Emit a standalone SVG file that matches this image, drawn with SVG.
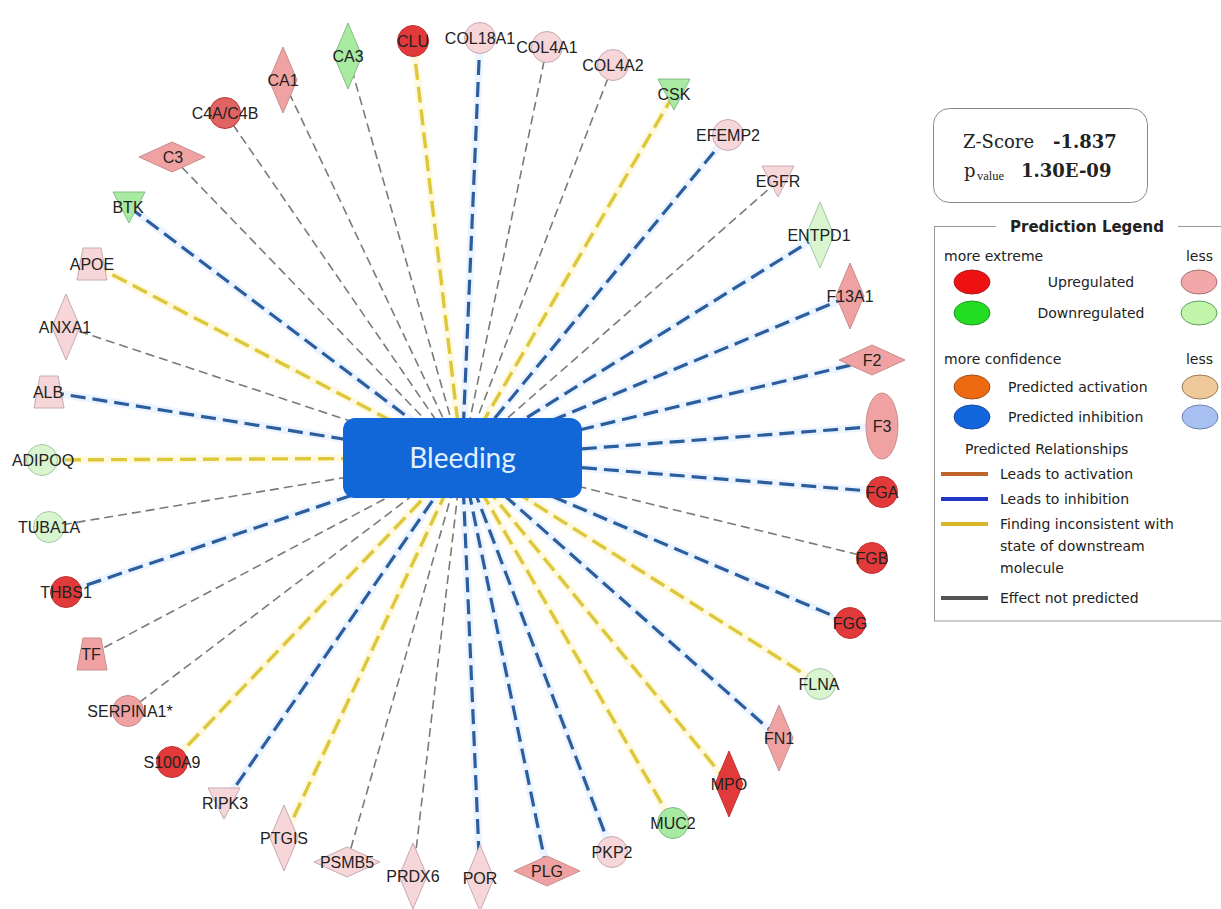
<svg xmlns="http://www.w3.org/2000/svg" xmlns:xlink="http://www.w3.org/1999/xlink" width="1221" height="909" viewBox="0 0 1221 909">
<style>
.lab{font-family:"Liberation Sans",Arial,sans-serif;font-size:16px;fill:#222;text-anchor:middle}
.cg{stroke:#7a7a7a;stroke-width:1.6;stroke-dasharray:9 5;fill:none}
.cb{stroke:#2c5e9e;stroke-width:3.2;stroke-dasharray:15 7;fill:none}
.cy{stroke:#dcc83a;stroke-width:3.4;stroke-dasharray:16 7;fill:none}
.hb{stroke:#d8eaff;stroke-width:8;opacity:0.5;fill:none}
.hy{stroke:#fff4c4;stroke-width:8;opacity:0.5;fill:none}
.r1{fill:#e23a3a;stroke:#c03535;stroke-width:1}
.r2{fill:#f0a2a2;stroke:#c88c8c;stroke-width:1}
.r3{fill:#f6d6d8;stroke:#c8aab0;stroke-width:1}
.g1{fill:#a8eaa2;stroke:#86bd86;stroke-width:1}
.g2{fill:#d8f5d0;stroke:#a6c8a6;stroke-width:1}
.lg{font-family:"DejaVu Sans",Verdana,sans-serif;font-size:14px;fill:#222}
.zs{font-family:"DejaVu Serif","Liberation Serif",serif;font-size:18px;fill:#222}
</style>
<defs>
<polygon id="vd" points="0,-33 14,0 0,33 -14,0"/>
<polygon id="hd" points="-33,0 0,-15 33,0 0,15"/>
<circle id="ci" cx="0" cy="0" r="15.5"/>
<polygon id="tr" points="-16,-15 16,-15 0,16"/>
<polygon id="tp" points="-9,-16 9,-16 15,16 -15,16"/>
<ellipse id="el" cx="0" cy="0" rx="16" ry="33"/>
</defs>
<rect width="1221" height="909" fill="#fff"/>

<g id="connectors">
<g id="halos">
<line class="hy" x1="413" y1="41" x2="462" y2="458"/>
<line class="hb" x1="480" y1="38" x2="462" y2="458"/>
<line class="hy" x1="674" y1="94" x2="462" y2="458"/>
<line class="hb" x1="728" y1="135" x2="462" y2="458"/>
<line class="hb" x1="820" y1="235" x2="462" y2="458"/>
<line class="hb" x1="850" y1="296" x2="462" y2="458"/>
<line class="hb" x1="872" y1="360" x2="462" y2="458"/>
<line class="hb" x1="882" y1="426" x2="462" y2="458"/>
<line class="hb" x1="882" y1="492" x2="462" y2="458"/>
<line class="hb" x1="850" y1="623" x2="462" y2="458"/>
<line class="hy" x1="820" y1="684" x2="462" y2="458"/>
<line class="hb" x1="779" y1="738" x2="462" y2="458"/>
<line class="hy" x1="729" y1="784" x2="462" y2="458"/>
<line class="hy" x1="673" y1="823" x2="462" y2="458"/>
<line class="hb" x1="612" y1="852" x2="462" y2="458"/>
<line class="hb" x1="547" y1="871" x2="462" y2="458"/>
<line class="hb" x1="480" y1="878" x2="462" y2="458"/>
<line class="hy" x1="284" y1="838" x2="462" y2="458"/>
<line class="hb" x1="224" y1="803" x2="462" y2="458"/>
<line class="hy" x1="172" y1="762" x2="462" y2="458"/>
<line class="hb" x1="66" y1="592" x2="462" y2="458"/>
<line class="hy" x1="42" y1="460" x2="462" y2="458"/>
<line class="hb" x1="49" y1="392" x2="462" y2="458"/>
<line class="hy" x1="92" y1="264" x2="462" y2="458"/>
<line class="hb" x1="129" y1="207" x2="462" y2="458"/>
</g>
<line class="cg" x1="348" y1="56" x2="462" y2="458"/>
<line class="cy" x1="413" y1="41" x2="462" y2="458"/>
<line class="cb" x1="480" y1="38" x2="462" y2="458"/>
<line class="cg" x1="547" y1="47" x2="462" y2="458"/>
<line class="cg" x1="613" y1="65" x2="462" y2="458"/>
<line class="cy" x1="674" y1="94" x2="462" y2="458"/>
<line class="cb" x1="728" y1="135" x2="462" y2="458"/>
<line class="cg" x1="778" y1="181" x2="462" y2="458"/>
<line class="cb" x1="820" y1="235" x2="462" y2="458"/>
<line class="cb" x1="850" y1="296" x2="462" y2="458"/>
<line class="cb" x1="872" y1="360" x2="462" y2="458"/>
<line class="cb" x1="882" y1="426" x2="462" y2="458"/>
<line class="cb" x1="882" y1="492" x2="462" y2="458"/>
<line class="cg" x1="872" y1="558" x2="462" y2="458"/>
<line class="cb" x1="850" y1="623" x2="462" y2="458"/>
<line class="cy" x1="820" y1="684" x2="462" y2="458"/>
<line class="cb" x1="779" y1="738" x2="462" y2="458"/>
<line class="cy" x1="729" y1="784" x2="462" y2="458"/>
<line class="cy" x1="673" y1="823" x2="462" y2="458"/>
<line class="cb" x1="612" y1="852" x2="462" y2="458"/>
<line class="cb" x1="547" y1="871" x2="462" y2="458"/>
<line class="cb" x1="480" y1="878" x2="462" y2="458"/>
<line class="cg" x1="413" y1="876" x2="462" y2="458"/>
<line class="cg" x1="347" y1="862" x2="462" y2="458"/>
<line class="cy" x1="284" y1="838" x2="462" y2="458"/>
<line class="cb" x1="224" y1="803" x2="462" y2="458"/>
<line class="cy" x1="172" y1="762" x2="462" y2="458"/>
<line class="cg" x1="128" y1="711" x2="462" y2="458"/>
<line class="cg" x1="92" y1="654" x2="462" y2="458"/>
<line class="cb" x1="66" y1="592" x2="462" y2="458"/>
<line class="cg" x1="49" y1="527" x2="462" y2="458"/>
<line class="cy" x1="42" y1="460" x2="462" y2="458"/>
<line class="cb" x1="49" y1="392" x2="462" y2="458"/>
<line class="cg" x1="66" y1="327" x2="462" y2="458"/>
<line class="cy" x1="92" y1="264" x2="462" y2="458"/>
<line class="cb" x1="129" y1="207" x2="462" y2="458"/>
<line class="cg" x1="172" y1="157" x2="462" y2="458"/>
<line class="cg" x1="225" y1="113" x2="462" y2="458"/>
<line class="cg" x1="283" y1="80" x2="462" y2="458"/>
</g>

<g id="n-CA3"><use href="#vd" x="348" y="56" class="g1"/><text class="lab" x="348" y="61.5">CA3</text></g>
<g id="n-CLU"><use href="#ci" x="413" y="41" class="r1"/><text class="lab" x="413" y="46.5">CLU</text></g>
<g id="n-COL18A1"><use href="#ci" x="480" y="38" class="r3"/><text class="lab" x="480" y="43.5">COL18A1</text></g>
<g id="n-COL4A1"><use href="#ci" x="547" y="47" class="r3"/><text class="lab" x="547" y="52.5">COL4A1</text></g>
<g id="n-COL4A2"><use href="#ci" x="613" y="65" class="r3"/><text class="lab" x="613" y="70.5">COL4A2</text></g>
<g id="n-CSK"><use href="#tr" x="674" y="94" class="g1"/><text class="lab" x="674" y="99.5">CSK</text></g>
<g id="n-EFEMP2"><use href="#ci" x="728" y="135" class="r3"/><text class="lab" x="728" y="140.5">EFEMP2</text></g>
<g id="n-EGFR"><use href="#tr" x="778" y="181" class="r3"/><text class="lab" x="778" y="186.5">EGFR</text></g>
<g id="n-ENTPD1"><use href="#vd" x="820" y="235" class="g2"/><text class="lab" x="819" y="240.5">ENTPD1</text></g>
<g id="n-F13A1"><use href="#vd" x="850" y="296" class="r2"/><text class="lab" x="850" y="301.5">F13A1</text></g>
<g id="n-F2"><use href="#hd" x="872" y="360" class="r2"/><text class="lab" x="872" y="365.5">F2</text></g>
<g id="n-F3"><use href="#el" x="882" y="426" class="r2"/><text class="lab" x="882" y="431.5">F3</text></g>
<g id="n-FGA"><use href="#ci" x="882" y="492" class="r1"/><text class="lab" x="882" y="497.5">FGA</text></g>
<g id="n-FGB"><use href="#ci" x="872" y="558" class="r1"/><text class="lab" x="872" y="563.5">FGB</text></g>
<g id="n-FGG"><use href="#ci" x="850" y="623" class="r1"/><text class="lab" x="850" y="628.5">FGG</text></g>
<g id="n-FLNA"><use href="#ci" x="820" y="684" class="g2"/><text class="lab" x="819" y="689.5">FLNA</text></g>
<g id="n-FN1"><use href="#vd" x="779" y="738" class="r2"/><text class="lab" x="779" y="743.5">FN1</text></g>
<g id="n-MPO"><use href="#vd" x="729" y="784" class="r1"/><text class="lab" x="729" y="789.5">MPO</text></g>
<g id="n-MUC2"><use href="#ci" x="673" y="823" class="g1"/><text class="lab" x="673" y="828.5">MUC2</text></g>
<g id="n-PKP2"><use href="#ci" x="612" y="852" class="r3"/><text class="lab" x="612" y="857.5">PKP2</text></g>
<g id="n-PLG"><use href="#hd" x="547" y="871" class="r2"/><text class="lab" x="547" y="876.5">PLG</text></g>
<g id="n-POR"><use href="#vd" x="480" y="878" class="r3"/><text class="lab" x="480" y="883.5">POR</text></g>
<g id="n-PRDX6"><use href="#vd" x="413" y="876" class="r3"/><text class="lab" x="413" y="881.5">PRDX6</text></g>
<g id="n-PSMB5"><use href="#hd" x="347" y="862" class="r3"/><text class="lab" x="347" y="867.5">PSMB5</text></g>
<g id="n-PTGIS"><use href="#vd" x="284" y="838" class="r3"/><text class="lab" x="284" y="843.5">PTGIS</text></g>
<g id="n-RIPK3"><use href="#tr" x="224" y="803" class="r3"/><text class="lab" x="225" y="808.5">RIPK3</text></g>
<g id="n-S100A9"><use href="#ci" x="172" y="762" class="r1"/><text class="lab" x="172" y="767.5">S100A9</text></g>
<g id="n-SERPINA1"><use href="#ci" x="128" y="711" class="r2"/><text class="lab" x="130" y="716.5">SERPINA1*</text></g>
<g id="n-TF"><use href="#tp" x="92" y="654" class="r2"/><text class="lab" x="91" y="659.5">TF</text></g>
<g id="n-THBS1"><use href="#ci" x="66" y="592" class="r1"/><text class="lab" x="66" y="597.5">THBS1</text></g>
<g id="n-TUBA1A"><use href="#ci" x="49" y="527" class="g2"/><text class="lab" x="49" y="532.5">TUBA1A</text></g>
<g id="n-ADIPOQ"><use href="#ci" x="42" y="460" class="g2"/><text class="lab" x="43" y="465.5">ADIPOQ</text></g>
<g id="n-ALB"><use href="#tp" x="49" y="392" class="r3"/><text class="lab" x="48" y="397.5">ALB</text></g>
<g id="n-ANXA1"><use href="#vd" x="66" y="327" class="r3"/><text class="lab" x="65" y="332.5">ANXA1</text></g>
<g id="n-APOE"><use href="#tp" x="92" y="264" class="r3"/><text class="lab" x="92" y="269.5">APOE</text></g>
<g id="n-BTK"><use href="#tr" x="129" y="207" class="g1"/><text class="lab" x="128" y="212.5">BTK</text></g>
<g id="n-C3"><use href="#hd" x="172" y="157" class="r2"/><text class="lab" x="173" y="162.5">C3</text></g>
<g id="n-C4A"><use href="#ci" x="225" y="113" class="r1" style="fill:#e06464"/><text class="lab" x="225" y="118.5">C4A/C4B</text></g>
<g id="n-CA1"><use href="#vd" x="283" y="80" class="r2"/><text class="lab" x="283" y="85.5">CA1</text></g>

<g id="n-Bleeding">
<rect x="343" y="418" width="239" height="80" rx="12" fill="#1166d8"/>
<text x="462.5" y="468" text-anchor="middle" font-family="Lato,'Open Sans',sans-serif" font-size="28" fill="#e2f0ff">Bleeding</text>
</g>

<g id="zscore">
<rect x="933.5" y="108.5" width="214" height="94" rx="16" fill="#fff" stroke="#8a8a8a" stroke-width="1"/>
<text class="zs" x="963" y="148">Z-Score</text>
<text class="zs" x="1053" y="148" font-weight="bold">-1.837</text>
<text class="zs" x="964" y="177" font-size="19">p</text>
<text x="977" y="180" font-family="'Liberation Serif',serif" font-size="12.5" fill="#222">value</text>
<text class="zs" x="1021" y="177" font-weight="bold">1.30E-09</text>
</g>

<g id="legend">
<rect x="934.5" y="226.5" width="300" height="394.5" fill="#fff" stroke="#9a9a9a" stroke-width="1"/>
<rect x="996" y="216" width="182" height="20" fill="#fff"/>
<text x="1087" y="232" text-anchor="middle" font-family="'DejaVu Sans',Verdana,sans-serif" font-size="15" font-weight="bold" fill="#222">Prediction Legend</text>
<text class="lg" x="944" y="261">more extreme</text>
<text class="lg" x="1213" y="261" text-anchor="end">less</text>
<ellipse cx="972" cy="282" rx="18" ry="12" fill="#ee1111" stroke="#a82020"/>
<text class="lg" x="1091" y="287" text-anchor="middle">Upregulated</text>
<ellipse cx="1199" cy="282" rx="18" ry="12" fill="#f2a8a8" stroke="#a87070"/>
<ellipse cx="972" cy="313" rx="18" ry="12" fill="#22dd22" stroke="#2a902a"/>
<text class="lg" x="1091" y="318" text-anchor="middle">Downregulated</text>
<ellipse cx="1199" cy="313" rx="18" ry="12" fill="#c2f5aa" stroke="#5e9e5e"/>
<text class="lg" x="944" y="364">more confidence</text>
<text class="lg" x="1213" y="364" text-anchor="end">less</text>
<ellipse cx="972" cy="387" rx="18" ry="12" fill="#ee6a10" stroke="#a05020"/>
<text class="lg" x="1008" y="392">Predicted activation</text>
<ellipse cx="1200" cy="387" rx="18" ry="12" fill="#eec898" stroke="#9a7a58"/>
<ellipse cx="972" cy="417" rx="18" ry="12" fill="#1166dd" stroke="#1c4c98"/>
<text class="lg" x="1008" y="422">Predicted inhibition</text>
<ellipse cx="1200" cy="417" rx="18" ry="12" fill="#a8c0f2" stroke="#6a80b0"/>
<text class="lg" x="965" y="454">Predicted Relationships</text>
<line x1="941" y1="474" x2="988" y2="474" stroke="#c0642a" stroke-width="4"/>
<text class="lg" x="1000" y="479">Leads to activation</text>
<line x1="941" y1="499" x2="988" y2="499" stroke="#2436c8" stroke-width="4"/>
<text class="lg" x="1000" y="504">Leads to inhibition</text>
<line x1="941" y1="524" x2="988" y2="524" stroke="#d8b828" stroke-width="4"/>
<text class="lg" x="1000" y="529">Finding inconsistent with</text>
<text class="lg" x="1000" y="551">state of downstream</text>
<text class="lg" x="1000" y="573">molecule</text>
<line x1="941" y1="598" x2="988" y2="598" stroke="#555" stroke-width="4"/>
<text class="lg" x="1000" y="603">Effect not predicted</text>
</g>
</svg>
